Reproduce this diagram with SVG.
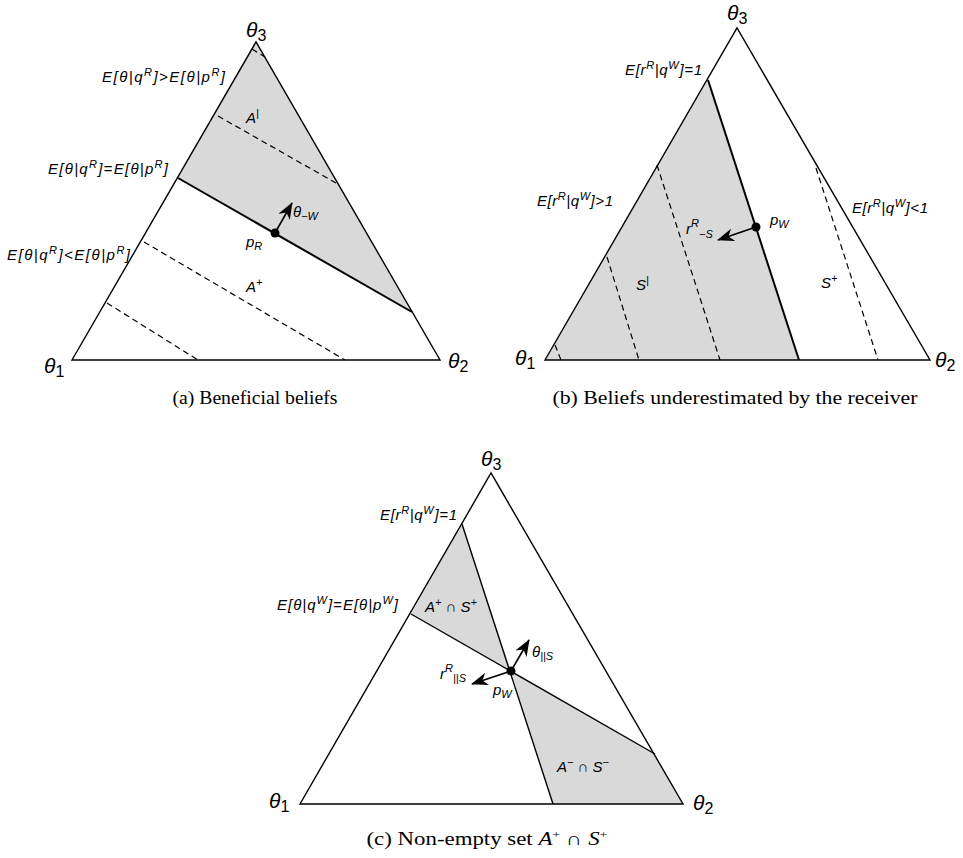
<svg xmlns="http://www.w3.org/2000/svg" width="963" height="858" viewBox="0 0 963 858">
<style>
.tri{fill:none;stroke:#000;stroke-width:1.4;stroke-linejoin:miter}
.sh{fill:#d9d9d9;stroke:none}
.sol{stroke:#000;stroke-width:2;fill:none}
.sol2{stroke:#000;stroke-width:1.4;fill:none}
.dsh{stroke:#000;stroke-width:1.2;stroke-dasharray:6 4;fill:none}
.arr{stroke:#000;stroke-width:1.6;fill:none;marker-end:url(#ah)}
.lb{font-family:"Liberation Sans",Arial,sans-serif;font-style:italic;font-size:15px;fill:#000}
.th{font-family:"Liberation Sans",Arial,sans-serif;font-style:italic;font-size:21px;fill:#000}
.sub{font-style:normal;font-size:16px}
.cap{font-family:"Liberation Serif","Times New Roman",serif;font-size:18px;fill:#000}
.sm{font-size:11px}
</style>
<defs>
<marker id="ah" markerUnits="userSpaceOnUse" markerWidth="18" markerHeight="14" refX="16" refY="6.5" orient="auto">
<path d="M0,0 L17,6.5 L0,13 L5,6.5 z" fill="#000"/>
</marker>
</defs>

<!-- Panel (a) -->
<g id="panel-a">
<polygon class="sh" points="178,178 256,42 412,312"/>
<line class="dsh" x1="252" y1="49" x2="265" y2="57"/>
<line class="dsh" x1="218" y1="116" x2="336" y2="183"/>
<line class="dsh" x1="144" y1="242" x2="345" y2="360"/>
<line class="dsh" x1="107" y1="303" x2="198" y2="360"/>
<line class="sol" x1="178" y1="178" x2="412" y2="312"/>
<polygon class="tri" points="72,360 256,42 440,360"/>
<circle cx="275" cy="233" r="4.5" fill="#000"/>
</g>
<g id="labels-a">
<text class="th" x="246" y="37">θ<tspan class="sub" dy="4">3</tspan></text>
<text class="th" x="44" y="373">θ<tspan class="sub" dy="4">1</tspan></text>
<text class="th" x="448" y="368">θ<tspan class="sub" dy="4">2</tspan></text>
<text class="lb" x="102" y="82" textLength="123" lengthAdjust="spacing">E[θ|q<tspan class="sm" dy="-6">R</tspan><tspan dy="6">]&gt;E[θ|p</tspan><tspan class="sm" dy="-6">R</tspan><tspan dy="6">]</tspan></text>
<text class="lb" x="48" y="174" textLength="120" lengthAdjust="spacing">E[θ|q<tspan class="sm" dy="-6">R</tspan><tspan dy="6">]=E[θ|p</tspan><tspan class="sm" dy="-6">R</tspan><tspan dy="6">]</tspan></text>
<text class="lb" x="7" y="260" textLength="123" lengthAdjust="spacing">E[θ|q<tspan class="sm" dy="-6">R</tspan><tspan dy="6">]&lt;E[θ|p</tspan><tspan class="sm" dy="-6">R</tspan><tspan dy="6">]</tspan></text>
<text class="lb" x="246" y="123">A<tspan class="sm" dy="-6">|</tspan></text>
<text class="lb" x="246" y="292">A<tspan class="sm" dy="-6">+</tspan></text>
<text class="lb" x="246" y="247">p<tspan class="sm" dy="3">R</tspan></text>
<text class="lb" x="293" y="217">θ<tspan class="sm" dy="3">−W</tspan></text>
<text class="cap" x="255" y="404" text-anchor="middle" textLength="165" lengthAdjust="spacingAndGlyphs">(a) Beneficial beliefs</text>
</g>

<!-- Panel (b) -->
<g id="panel-b">
<polygon class="sh" points="545,360 708,80 799,360"/>
<line class="dsh" x1="657" y1="165" x2="720" y2="360"/>
<line class="dsh" x1="607" y1="257" x2="639" y2="360"/>
<line class="dsh" x1="555" y1="345" x2="561" y2="360"/>
<line class="dsh" x1="816" y1="168" x2="878" y2="360"/>
<line class="sol" x1="708" y1="80" x2="799" y2="360"/>
<polygon class="tri" points="545,360 737,28 930,360"/>
<circle cx="756" cy="227" r="4.5" fill="#000"/>
</g>
<g id="labels-b">
<text class="th" x="727" y="20">θ<tspan class="sub" dy="4">3</tspan></text>
<text class="th" x="515" y="365">θ<tspan class="sub" dy="4">1</tspan></text>
<text class="th" x="935" y="367">θ<tspan class="sub" dy="4">2</tspan></text>
<text class="lb" x="625" y="75" textLength="77" lengthAdjust="spacing">E[r<tspan class="sm" dy="-6">R</tspan><tspan dy="6">|q</tspan><tspan class="sm" dy="-6">W</tspan><tspan dy="6">]=1</tspan></text>
<text class="lb" x="537" y="206" textLength="76" lengthAdjust="spacing">E[r<tspan class="sm" dy="-6">R</tspan><tspan dy="6">|q</tspan><tspan class="sm" dy="-6">W</tspan><tspan dy="6">]&gt;1</tspan></text>
<text class="lb" x="852" y="213" textLength="76" lengthAdjust="spacing">E[r<tspan class="sm" dy="-6">R</tspan><tspan dy="6">|q</tspan><tspan class="sm" dy="-6">W</tspan><tspan dy="6">]&lt;1</tspan></text>
<text class="lb" x="636" y="290">S<tspan class="sm" dy="-6">|</tspan></text>
<text class="lb" x="821" y="288">S<tspan class="sm" dy="-6">+</tspan></text>
<text class="lb" x="770" y="225">p<tspan class="sm" dy="3">W</tspan></text>
<text class="lb" x="686" y="234">r<tspan class="sm" dy="-7">R</tspan><tspan class="sm" dy="11">−S</tspan></text>
<text class="cap" x="735" y="404" text-anchor="middle" textLength="365" lengthAdjust="spacingAndGlyphs">(b) Beliefs underestimated by the receiver</text>
</g>

<!-- Panel (c) -->
<g id="panel-c">
<polygon class="sh" points="462,524 411,614 511,671"/>
<polygon class="sh" points="511,671 655,754 683,804 553,804"/>
<line class="sol2" x1="462" y1="524" x2="553" y2="804"/>
<line class="sol2" x1="411" y1="614" x2="655" y2="754"/>
<polygon class="tri" points="300,804 491,473 683,804"/>
<circle cx="511" cy="671" r="4.5" fill="#000"/>
</g>
<g id="labels-c">
<text class="th" x="481" y="466">θ<tspan class="sub" dy="4">3</tspan></text>
<text class="th" x="269" y="808">θ<tspan class="sub" dy="4">1</tspan></text>
<text class="th" x="693" y="810">θ<tspan class="sub" dy="4">2</tspan></text>
<text class="lb" x="380" y="520" textLength="77" lengthAdjust="spacing">E[r<tspan class="sm" dy="-6">R</tspan><tspan dy="6">|q</tspan><tspan class="sm" dy="-6">W</tspan><tspan dy="6">]=1</tspan></text>
<text class="lb" x="277" y="610" textLength="121" lengthAdjust="spacing">E[θ|q<tspan class="sm" dy="-6">W</tspan><tspan dy="6">]=E[θ|p</tspan><tspan class="sm" dy="-6">W</tspan><tspan dy="6">]</tspan></text>
<text class="lb" x="425" y="612">A<tspan class="sm" dy="-6">+</tspan><tspan dy="6"> ∩ S</tspan><tspan class="sm" dy="-6">+</tspan></text>
<text class="lb" x="557" y="772">A<tspan class="sm" dy="-6">−</tspan><tspan dy="6"> ∩ S</tspan><tspan class="sm" dy="-6">−</tspan></text>
<text class="lb" x="532" y="657">θ<tspan class="sm" dy="3">||S</tspan></text>
<text class="lb" x="440" y="679">r<tspan class="sm" dy="-7">R</tspan><tspan class="sm" dy="10">||S</tspan></text>
<text class="lb" x="493" y="695">p<tspan class="sm" dy="3">W</tspan></text>
<text class="cap" x="487" y="845" text-anchor="middle" textLength="241" lengthAdjust="spacingAndGlyphs">(c) Non-empty set <tspan font-style="italic">A</tspan><tspan class="sm" dy="-7">+</tspan><tspan dy="7"> ∩ </tspan><tspan font-style="italic">S</tspan><tspan class="sm" dy="-7">+</tspan></text>
</g>

<g id="connectors">
<line class="arr" x1="275" y1="233" x2="292" y2="203"/>
<line class="arr" x1="756" y1="227" x2="718" y2="240"/>
<line class="arr" x1="511" y1="671" x2="529" y2="640"/>
<line class="arr" x1="511" y1="671" x2="472" y2="684"/>
</g>
</svg>
